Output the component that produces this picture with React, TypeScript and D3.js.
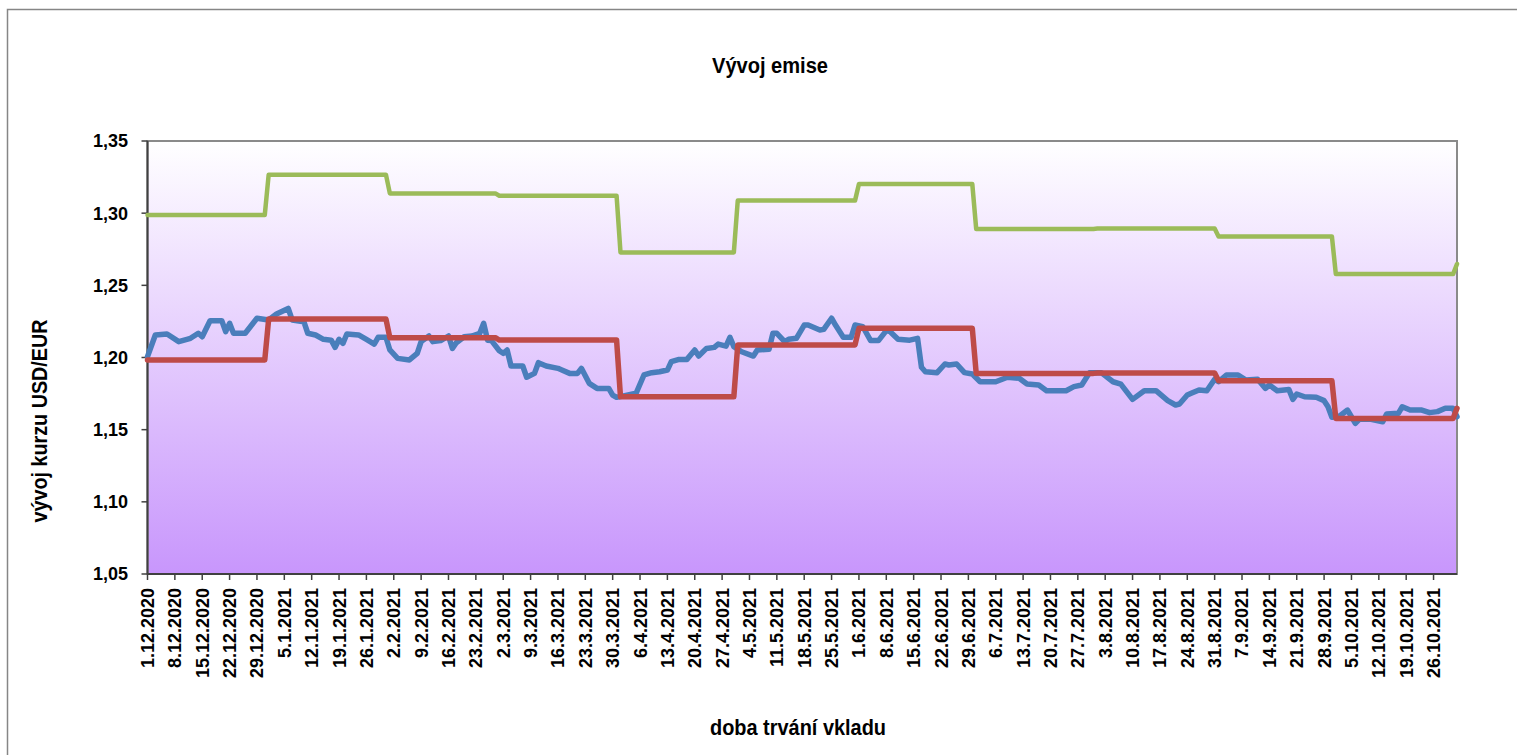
import React from "react";
import * as d3 from "d3";

// ---- data ----
const xTickLabels = [
  "1.12.2020","8.12.2020","15.12.2020","22.12.2020","29.12.2020","5.1.2021","12.1.2021","19.1.2021","26.1.2021",
  "2.2.2021","9.2.2021","16.2.2021","23.2.2021","2.3.2021","9.3.2021","16.3.2021","23.3.2021","30.3.2021",
  "6.4.2021","13.4.2021","20.4.2021","27.4.2021","4.5.2021","11.5.2021","18.5.2021","25.5.2021","1.6.2021",
  "8.6.2021","15.6.2021","22.6.2021","29.6.2021","6.7.2021","13.7.2021","20.7.2021","27.7.2021","3.8.2021",
  "10.8.2021","17.8.2021","24.8.2021","31.8.2021","7.9.2021","14.9.2021","21.9.2021","28.9.2021","5.10.2021",
  "12.10.2021","19.10.2021","26.10.2021",
];
const yTicks = [1.05, 1.1, 1.15, 1.2, 1.25, 1.3, 1.35];
const lastDay = 335; // 1.11.2021, days since 1.12.2020

// blue: daily USD/EUR rate (day offset from 1.12.2020, value)
const blueDays = [0,2,5,8,11,13,14,16,19,20,21,22,25,28,31,33,36,37,40,41,43,45,47,48,49,50,51,54,56,58,59,61,62,64,67,69,70,72,73,75,77,78,79,81,83,85,86,87,88,90,91,92,93,96,97,99,100,102,105,106,108,110,111,113,115,118,119,120,125,127,129,131,133,134,136,138,140,141,143,145,146,148,149,150,152,155,156,159,160,161,163,164,166,168,169,172,173,175,176,178,180,181,183,185,187,189,190,192,195,197,198,199,202,204,205,207,209,211,213,217,220,223,225,228,230,235,237,239,241,244,247,249,252,255,258,261,263,264,266,267,269,271,273,274,276,279,281,284,286,287,289,292,293,294,296,299,301,302,303,305,307,309,310,313,316,317,320,321,323,326,328,330,332,334,335];
const blueValues = [1.2006,1.2156,1.2163,1.211,1.2133,1.2168,1.2144,1.2255,1.2255,1.2179,1.2237,1.2168,1.2168,1.2272,1.226,1.2301,1.234,1.226,1.2248,1.2168,1.2156,1.2126,1.212,1.207,1.2126,1.2098,1.2163,1.2156,1.2125,1.2093,1.214,1.214,1.2052,1.1994,1.1983,1.2029,1.211,1.2149,1.211,1.2117,1.2149,1.2063,1.2102,1.2144,1.2149,1.2168,1.2237,1.212,1.2117,1.2047,1.2029,1.2052,1.1941,1.1941,1.1863,1.189,1.1964,1.1941,1.1925,1.1913,1.189,1.189,1.1925,1.1821,1.1786,1.1786,1.174,1.1724,1.1752,1.1879,1.1895,1.1901,1.1913,1.1971,1.1987,1.1987,1.2052,1.201,1.2063,1.207,1.2093,1.2079,1.214,1.2075,1.204,1.201,1.2052,1.2057,1.2168,1.2168,1.211,1.2126,1.2133,1.2225,1.2225,1.219,1.2195,1.2272,1.2225,1.214,1.214,1.2225,1.2213,1.2117,1.2117,1.2186,1.2179,1.2126,1.212,1.2133,1.1932,1.1901,1.1895,1.1955,1.1948,1.1955,1.1895,1.1886,1.1832,1.1832,1.1863,1.1856,1.1816,1.1809,1.177,1.177,1.1798,1.1809,1.1895,1.1895,1.1832,1.1816,1.171,1.177,1.177,1.1701,1.1671,1.1678,1.174,1.1752,1.1775,1.177,1.1849,1.1832,1.1879,1.1879,1.1844,1.1849,1.1786,1.1809,1.177,1.1779,1.171,1.1747,1.1728,1.1724,1.1701,1.1659,1.1586,1.1595,1.1636,1.1544,1.1572,1.1572,1.1555,1.1608,1.1613,1.1659,1.1636,1.1636,1.1618,1.1625,1.1648,1.1648,1.159];

// monthly issue rates: first day (offset) of each month
const monthStarts = [0, 31, 62, 90, 121, 151, 182, 212, 243, 274, 304, 335];
const redValues = [1.1983, 1.2267, 1.2137, 1.2121, 1.1728, 1.2087, 1.2202, 1.189, 1.1893, 1.1839, 1.1578, 1.1648];
const greenValues = [1.2987, 1.3267, 1.3137, 1.3121, 1.2728, 1.3087, 1.3202, 1.289, 1.2893, 1.2839, 1.2578, 1.2648];

const FONT = "'Liberation Sans', Arial, sans-serif";
const NARROW = "'Liberation Sans Narrow', 'Arial Narrow', 'Liberation Sans', sans-serif";

function stepSeries(vals: number[]): [number, number][] {
  const pts: [number, number][] = [];
  monthStarts.forEach((s, i) => {
    pts.push([s, vals[i]]);
    const next = monthStarts[i + 1];
    if (next !== undefined && next - 1 > s) pts.push([next - 1, vals[i]]);
  });
  return pts;
}

export default function App() {
  const W = 1517, H = 755;
  const left = 147.5, right = 1457, top = 141, bottom = 574;
  const x = d3.scaleLinear().domain([0, lastDay]).range([left, right]);
  const y = d3.scaleLinear().domain([1.05, 1.35]).range([bottom, top]);
  const line = d3.line<[number, number]>().x(d => x(d[0])).y(d => y(d[1]));

  const blue: [number, number][] = blueDays.map((d, i) => [d, blueValues[i]]);
  const red = stepSeries(redValues);
  const green = stepSeries(greenValues);

  return (
    <svg width={W} height={H} style={{ position: "absolute", left: 0, top: 0, display: "block" }}>
      <defs>
        <linearGradient id="bg" x1="0" y1="0" x2="0" y2="1">
          <stop offset="0" stopColor="#ffffff" />
          <stop offset="1" stopColor="#c896fc" />
        </linearGradient>
      </defs>
      <rect x={0} y={0} width={W} height={H} fill="#ffffff" />
      <rect x={7.5} y={9.5} width={1540} height={800} fill="#ffffff" stroke="#868686" strokeWidth={1.5} />
      <text x={770} y={73} textAnchor="middle" fontFamily={NARROW} fontWeight="bold" fontSize={22}
        textLength={116} lengthAdjust="spacingAndGlyphs">Vývoj emise</text>

      <rect x={left} y={top} width={right - left} height={bottom - top} fill="url(#bg)" stroke="#8a8a8a" strokeWidth={2} />

      {/* y axis */}
      <line x1={left} x2={left} y1={top} y2={bottom} stroke="#404040" strokeWidth={2} />
      {yTicks.map(t => (
        <g key={t}>
          <line x1={left - 6} x2={left} y1={y(t)} y2={y(t)} stroke="#404040" strokeWidth={1.5} />
          <text x={128} y={y(t)} dy="0.36em" textAnchor="end" fontFamily={FONT} fontWeight="bold" fontSize={18}>
            {d3.format(".2f")(t).replace(".", ",")}
          </text>
        </g>
      ))}
      <text transform={`translate(47,${421}) rotate(-90)`} textAnchor="middle" fontFamily={NARROW} fontWeight="bold"
        fontSize={22} textLength={203} lengthAdjust="spacingAndGlyphs">vývoj kurzu USD/EUR</text>

      {/* x axis */}
      <line x1={left} x2={right} y1={bottom} y2={bottom} stroke="#404040" strokeWidth={2} />
      {xTickLabels.map((lab, i) => {
        const xx = x(i * 7);
        return (
          <g key={lab}>
            <line x1={xx} x2={xx} y1={bottom} y2={bottom + 6} stroke="#404040" strokeWidth={1.5} />
            <text transform={`translate(${xx},588) rotate(-90)`} dy="0.36em" textAnchor="end" fontFamily={FONT}
              fontWeight="bold" fontSize={18}>{lab}</text>
          </g>
        );
      })}
      <text x={798} y={735} textAnchor="middle" fontFamily={NARROW} fontWeight="bold" fontSize={22}
        textLength={176} lengthAdjust="spacingAndGlyphs">doba trvání vkladu</text>

      {/* series */}
      <path d={line(green) || ""} fill="none" stroke="#9bbb59" strokeWidth={4.5} strokeLinejoin="round" strokeLinecap="round" />
      <path d={line(blue) || ""} fill="none" stroke="#4a7ebb" strokeWidth={5.5} strokeLinejoin="round" strokeLinecap="round" />
      <path d={line(red) || ""} fill="none" stroke="#be4b48" strokeWidth={5.5} strokeLinejoin="round" strokeLinecap="round" />
    </svg>
  );
}
